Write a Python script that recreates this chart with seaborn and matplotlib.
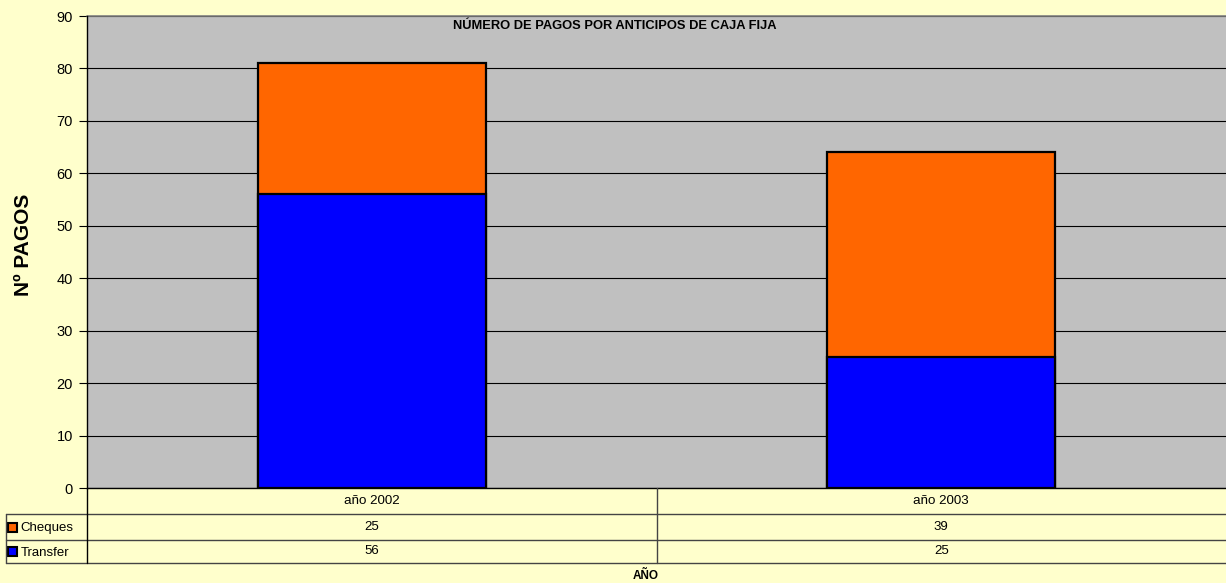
import matplotlib
matplotlib.use("Agg")
import matplotlib.pyplot as plt
import seaborn as sns
import pandas as pd
from matplotlib import font_manager
from matplotlib.patches import Rectangle
from matplotlib.lines import Line2D

# Data
years = ["año 2002", "año 2003"]
cheques = [25, 39]
transfer = [56, 25]
series_names = ["Cheques", "Transfer"]
series_colors = ["#FF6600", "#0000FF"]
title = "NÚMERO DE PAGOS POR ANTICIPOS DE CAJA FIJA"
ylabel = "Nº PAGOS"
xlabel = "AÑO"

sns.set_theme(style="white")


def find_font(stem):
    for path in font_manager.findSystemFonts():
        if path.split("/")[-1].lower() == stem.lower():
            return path
    return None


reg_path = find_font("LiberationSans-Regular.ttf")
bold_path = find_font("LiberationSans-Bold.ttf")
if reg_path:
    font_manager.fontManager.addfont(reg_path)
    reg_name = font_manager.FontProperties(fname=reg_path).get_name()
    plt.rcParams["font.family"] = [reg_name, "DejaVu Sans"]
else:
    plt.rcParams["font.family"] = ["DejaVu Sans"]


def bold(size):
    if bold_path:
        return font_manager.FontProperties(fname=bold_path, size=size)
    return font_manager.FontProperties(weight="bold", size=size)


plt.rcParams["text.color"] = "black"
plt.rcParams["axes.labelcolor"] = "black"
plt.rcParams["ytick.color"] = "black"

W, H = 1226, 583
fig = plt.figure(figsize=(W / 100, H / 100), dpi=100, facecolor="#FFFFCC")


def fx(px):
    return px / W


def fy(py):
    return 1 - py / H


left, right, top, bottom = 87, 1226, 16, 488
ax = fig.add_axes([fx(left), fy(bottom), fx(right - left), fy(top) - fy(bottom)])
ax.set_facecolor("#C0C0C0")

df = pd.DataFrame({"year": years, "cheques": cheques, "transfer": transfer})
df["total"] = df["cheques"] + df["transfer"]

sns.barplot(data=df, x="year", y="total", color=series_colors[0], width=0.4,
            edgecolor="black", linewidth=1.6, saturation=1, ax=ax, zorder=3)
sns.barplot(data=df, x="year", y="transfer", color=series_colors[1], width=0.4,
            edgecolor="black", linewidth=1.6, saturation=1, ax=ax, zorder=4)

ax.set_ylim(0, 90)
ax.set_xlim(-0.5, 1.5)
ax.set_yticks(range(0, 91, 10))
ax.yaxis.grid(True, color="black", linewidth=0.8)
ax.set_axisbelow(True)
ax.set_xticks([])
ax.set_xlabel("")
ax.set_ylabel(ylabel, fontproperties=bold(15), labelpad=17)
ax.yaxis.label.set_y(0.515)
ax.tick_params(axis="y", direction="out", length=6, width=0.8, color="black",
               labelsize=10.5, pad=4, left=True, labelcolor="black")
for s in ["top", "right"]:
    ax.spines[s].set_visible(False)
ax.spines["left"].set_color("black")
ax.spines["left"].set_linewidth(1.0)
ax.spines["bottom"].set_color("black")
ax.spines["bottom"].set_linewidth(1.0)
ax.plot([0, 1], [1, 1], transform=ax.transAxes, color="#808080", linewidth=1.2,
        clip_on=False)

fig.text(fx(615), fy(26), title, ha="center", va="center", fontproperties=bold(9.3))

# Data table below the axis
row_y = [488, 514, 540, 563]
tl = 6
mid = (left + right) / 2
lc = "#444444"
for y in row_y[1:]:
    fig.add_artist(Line2D([fx(tl), fx(right)], [fy(y), fy(y)], color=lc, linewidth=1.0))
fig.add_artist(Line2D([fx(tl), fx(tl)], [fy(514), fy(563)], color=lc, linewidth=1.0))
fig.add_artist(Line2D([fx(left), fx(left)], [fy(488), fy(563)], color="black", linewidth=1.0))
fig.add_artist(Line2D([fx(mid), fx(mid)], [fy(488), fy(563)], color=lc, linewidth=1.0))

col_centers = [(left + mid) / 2, (mid + right) / 2]
for cx, yr in zip(col_centers, years):
    fig.text(fx(cx), fy(501), yr, ha="center", va="center", fontsize=9.6)

rows = [cheques, transfer]
for i, (name, color, vals) in enumerate(zip(series_names, series_colors, rows)):
    yc = (row_y[i + 1] + row_y[i + 2]) / 2
    fig.add_artist(Rectangle((fx(8), fy(yc + 4.5)), fx(9), fy(yc - 4.5) - fy(yc + 4.5),
                             facecolor=color, edgecolor="black", linewidth=1.5))
    fig.text(fx(20.5), fy(yc + 1.5), name, ha="left", va="center", fontsize=9.5)
    for cx, v in zip(col_centers, vals):
        fig.text(fx(cx), fy(yc - 0.5), str(v), ha="center", va="center", fontsize=9.5)

fig.text(fx(646), fy(576), xlabel, ha="center", va="center", fontproperties=bold(8.5))

fig.savefig("out.png", dpi=100, facecolor=fig.get_facecolor())
